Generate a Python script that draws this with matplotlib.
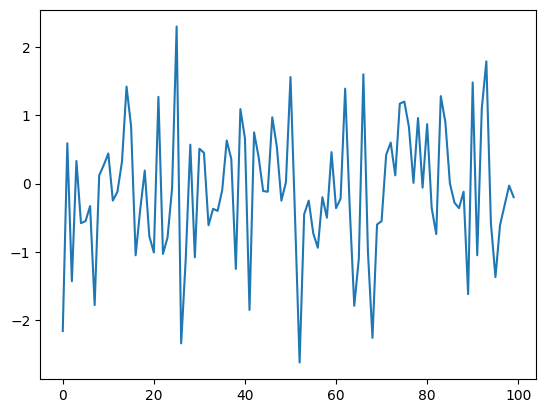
import numpy as np
import matplotlib
matplotlib.use('Agg')
import matplotlib.pyplot as plt

# values, index 0..99
values = [
    -2.16, 0.59, -1.43, 0.33, -0.58, -0.55, -0.33, -1.78, 0.12, 0.27,
    0.44, -0.25, -0.12, 0.32, 1.42, 0.84, -1.05, -0.38, 0.19, -0.77,
    -1.01, 1.27, -1.03, -0.79, -0.07, 2.30, -2.34, -1.10, 0.57, -1.08,
    0.51, 0.45, -0.61, -0.37, -0.40, -0.10, 0.63, 0.36, -1.25, 1.09,
    0.66, -1.85, 0.75, 0.39, -0.11, -0.12, 0.97, 0.54, -0.25, 0.02,
    1.56, -0.50, -2.62, -0.45, -0.25, -0.73, -0.94, -0.20, -0.50, 0.46,
    -0.36, -0.22, 1.39, -0.35, -1.79, -1.10, 1.60, -1.00, -2.26, -0.60,
    -0.55, 0.42, 0.60, 0.12, 1.17, 1.20, 0.83, 0.01, 0.96, -0.06,
    0.87, -0.36, -0.74, 1.28, 0.90, 0.00, -0.28, -0.36, -0.12, -1.62,
    1.48, -1.05, 1.10, 1.79, -0.58, -1.37, -0.61, -0.32, -0.03, -0.20,
]

x = np.arange(len(values))

plt.figure(figsize=(6.4, 4.8))
plt.plot(x, values)
plt.savefig('out.png', dpi=100, bbox_inches='tight')
